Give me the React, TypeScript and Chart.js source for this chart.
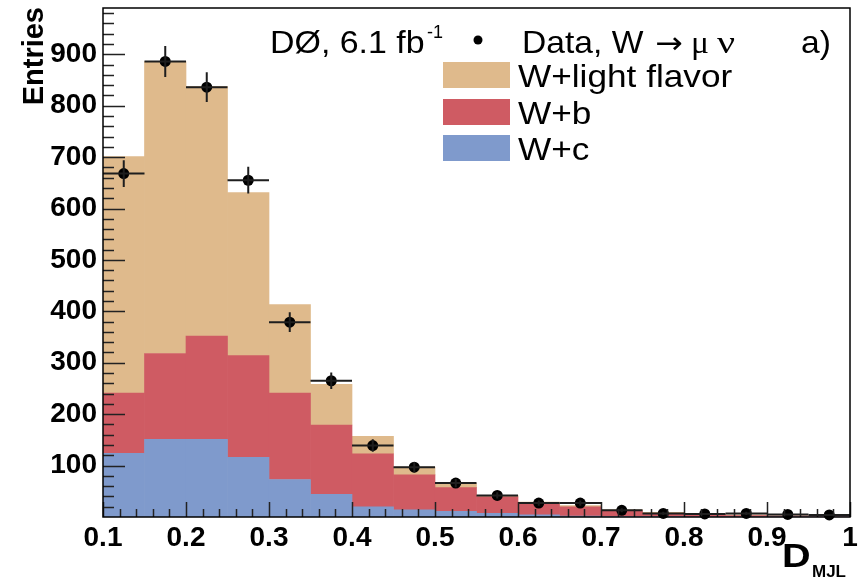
import React, { useEffect, useRef } from 'react';
import { Chart, registerables } from 'chart.js';

Chart.register(...registerables);

// ---- data ----
const binCenters = [0.125, 0.175, 0.225, 0.275, 0.325, 0.375, 0.425, 0.475, 0.525, 0.575, 0.625, 0.675, 0.725, 0.775, 0.825, 0.875, 0.925, 0.975];
const binWidth = 0.05;
const wcValues = [124, 151, 151, 116, 73, 44, 20, 14, 11, 7, 4, 2, 1, 1, 0.5, 0.5, 0.3, 0.2];
const wbValues = [117, 167, 201, 198, 168, 135, 103, 68, 46, 32, 22, 18, 11, 6, 3.5, 2.5, 1.7, 0.8];
const wlfValues = [460, 568, 485, 317, 172, 79, 34, 15, 8, 3, 3, 2, 2, 2, 1, 1, 0.3, 0.2];
const dataValues = [668, 886, 836, 655, 379, 265, 139, 97, 66, 42, 27, 27, 13, 7, 6, 7, 5, 4];
const dataErrors = [26, 30, 29, 26, 19, 16, 12, 10, 8, 6, 5, 5, 4, 3, 2, 3, 2, 2];
const xTickValues = [0.1, 0.2, 0.3, 0.4, 0.5, 0.6, 0.7, 0.8, 0.9, 1.0];
const xTickLabels = ['0.1', '0.2', '0.3', '0.4', '0.5', '0.6', '0.7', '0.8', '0.9', '1'];
const yTickValues = [100, 200, 300, 400, 500, 600, 700, 800, 900];
const yTickLabels = ['100', '200', '300', '400', '500', '600', '700', '800', '900'];

const COLOR_LF = '#DFBA8C';
const COLOR_B = '#CF5B63';
const COLOR_C = '#7F9ACC';
const SANS = '"Liberation Sans", Arial, Helvetica, sans-serif';
const SERIF = '"Liberation Serif", "Times New Roman", serif';

function drawText(ctx: CanvasRenderingContext2D, text: string, x: number, y: number, font: string, sx = 1, align: CanvasTextAlign = 'left') {
  ctx.save();
  ctx.translate(x, y);
  ctx.scale(sx, 1);
  ctx.font = font;
  ctx.textAlign = align;
  ctx.textBaseline = 'alphabetic';
  ctx.fillStyle = '#000';
  ctx.fillText(text, 0, 0);
  ctx.restore();
}

const overlay = {
  id: 'overlay',
  afterDatasetsDraw(chart: any) {
    const ctx: CanvasRenderingContext2D = chart.ctx;
    const xs = chart.scales.x;
    const ys = chart.scales.y;
    ctx.save();
    ctx.strokeStyle = '#1e1e1e';
    ctx.lineWidth = 2;
    binCenters.forEach((c, i) => {
      const px = xs.getPixelForValue(c);
      const py = ys.getPixelForValue(dataValues[i]);
      const x0 = xs.getPixelForValue(c - binWidth / 2);
      const x1 = xs.getPixelForValue(c + binWidth / 2);
      const yt = ys.getPixelForValue(dataValues[i] + dataErrors[i]);
      const yb = ys.getPixelForValue(Math.max(0, dataValues[i] - dataErrors[i]));
      ctx.beginPath();
      ctx.moveTo(x0, py);
      ctx.lineTo(x1, py);
      ctx.moveTo(px, yt);
      ctx.lineTo(px, yb);
      ctx.stroke();
    });
    ctx.restore();
  },
  afterDraw(chart: any) {
    const ctx: CanvasRenderingContext2D = chart.ctx;
    const xs = chart.scales.x;
    const ys = chart.scales.y;
    const a = chart.chartArea;
    ctx.save();
    // inward ticks
    ctx.strokeStyle = '#222';
    ctx.lineWidth = 1.5;
    ctx.beginPath();
    for (let k = 0; k <= 45; k++) {
      const v = 0.1 + k * 0.02;
      const px = Math.round(xs.getPixelForValue(v)) + 0.5;
      const len = k % 5 === 0 ? 15 : 8;
      ctx.moveTo(px, a.bottom);
      ctx.lineTo(px, a.bottom - len);
    }
    for (let k = 1; k * 20 < ys.max; k++) {
      const v = k * 20;
      const py = Math.round(ys.getPixelForValue(v)) + 0.5;
      const len = k % 5 === 0 ? 22 : 11;
      ctx.moveTo(a.left, py);
      ctx.lineTo(a.left + len, py);
    }
    ctx.stroke();
    // frame
    ctx.strokeStyle = '#000';
    ctx.lineWidth = 1.5;
    ctx.strokeRect(a.left, a.top, a.right - a.left, a.bottom - a.top);
    ctx.restore();

    // axis titles
    ctx.save();
    ctx.translate(43, 7);
    ctx.rotate(-Math.PI / 2);
    ctx.font = `bold 29px ${SANS}`;
    ctx.textAlign = 'right';
    ctx.textBaseline = 'alphabetic';
    ctx.fillStyle = '#000';
    ctx.fillText('Entries', 0, 0);
    ctx.restore();
    drawText(ctx, 'D', 782, 567, `bold 33px ${SANS}`, 1.2);
    drawText(ctx, 'MJL', 812, 577, `bold 17px ${SANS}`, 1.0);

    // legend
    drawText(ctx, 'DØ, 6.1 fb', 270, 53, `32px ${SANS}`, 1.06);
    drawText(ctx, '-1', 427, 38, `18px ${SANS}`, 1.0);
    ctx.save();
    ctx.fillStyle = '#000';
    ctx.beginPath();
    ctx.arc(478, 40, 4.5, 0, Math.PI * 2);
    ctx.fill();
    ctx.restore();
    drawText(ctx, 'Data, W', 522, 53, `32px ${SANS}`, 1.05);
    drawText(ctx, '→', 655, 53, `30px "DejaVu Sans", sans-serif`, 1.1);
    drawText(ctx, 'μ', 691, 53, `32px ${SERIF}`, 1.05);
    drawText(ctx, 'ν', 717, 53, `32px ${SERIF}`, 1.25);
    drawText(ctx, 'a)', 801, 53, `32px ${SANS}`, 1.05);
    const boxes = [
      { c: COLOR_LF, t: 'W+light flavor', y: 62 },
      { c: COLOR_B, t: 'W+b', y: 99 },
      { c: COLOR_C, t: 'W+c', y: 135 },
    ];
    boxes.forEach((b) => {
      ctx.save();
      ctx.fillStyle = b.c;
      ctx.fillRect(443, b.y, 67, 26);
      ctx.restore();
      drawText(ctx, b.t, 518, b.y + 25, `32px ${SANS}`, 1.1);
    });
  },
};

export default function App() {
  const ref = useRef<HTMLCanvasElement | null>(null);
  useEffect(() => {
    if (!ref.current) return;
    const mk = (vals: number[]) => binCenters.map((x, i) => ({ x, y: vals[i] }));
    const chart = new Chart(ref.current, {
      type: 'bar',
      data: {
        datasets: [
          {
            type: 'scatter',
            label: 'Data, W → μ ν',
            data: mk(dataValues),
            backgroundColor: '#000',
            borderColor: '#000',
            pointRadius: 5.5,
            pointBorderWidth: 0,
            clip: false as any,
            order: -1,
          } as any,
          { type: 'bar', label: 'W+c', data: mk(wcValues), backgroundColor: COLOR_C, stack: 'mc', barPercentage: 1, categoryPercentage: 1, borderWidth: 0 },
          { type: 'bar', label: 'W+b', data: mk(wbValues), backgroundColor: COLOR_B, stack: 'mc', barPercentage: 1, categoryPercentage: 1, borderWidth: 0 },
          { type: 'bar', label: 'W+light flavor', data: mk(wlfValues), backgroundColor: COLOR_LF, stack: 'mc', barPercentage: 1, categoryPercentage: 1, borderWidth: 0 },
        ],
      },
      options: {
        responsive: false,
        animation: false,
        layout: { padding: { left: 0, top: 8, right: 11, bottom: 0 } },
        plugins: { legend: { display: false }, tooltip: { enabled: false } },
        scales: {
          x: {
            type: 'linear',
            min: 0.1,
            max: 1.0,
            offset: false,
            grid: { display: false, drawTicks: false, offset: false },
            border: { display: false },
            afterFit: (s: any) => { s.height = 60; s.paddingLeft = 0; s.paddingRight = 0; },
            afterBuildTicks: (s: any) => { s.ticks = xTickValues.map((v) => ({ value: v })); },
            ticks: {
              autoSkip: false,
              maxRotation: 0,
              padding: 4,
              color: '#000',
              font: { family: SANS, weight: 'bold', size: 28 },
              callback: (v: any) => {
                const i = xTickValues.findIndex((t) => Math.abs(t - Number(v)) < 1e-6);
                return i >= 0 ? xTickLabels[i] : '';
              },
            },
          },
          y: {
            type: 'linear',
            min: 0,
            max: 990,
            grid: { display: false, drawTicks: false },
            border: { display: false },
            afterFit: (s: any) => { s.width = 103; s.paddingTop = 0; s.paddingBottom = 0; },
            afterBuildTicks: (s: any) => { s.ticks = yTickValues.map((v) => ({ value: v })); },
            ticks: {
              autoSkip: false,
              padding: 6,
              color: '#000',
              font: { family: SANS, weight: 'bold', size: 28 },
              callback: (v: any) => {
                const i = yTickValues.indexOf(Number(v));
                return i >= 0 ? yTickLabels[i] : '';
              },
            },
          },
        },
      } as any,
      plugins: [overlay],
    });
    return () => chart.destroy();
  }, []);
  return (
    <div style={{ position: 'fixed', left: 0, top: 0, width: 861, height: 577, background: '#fff' }}>
      <canvas ref={ref} width={861} height={577} />
    </div>
  );
}
